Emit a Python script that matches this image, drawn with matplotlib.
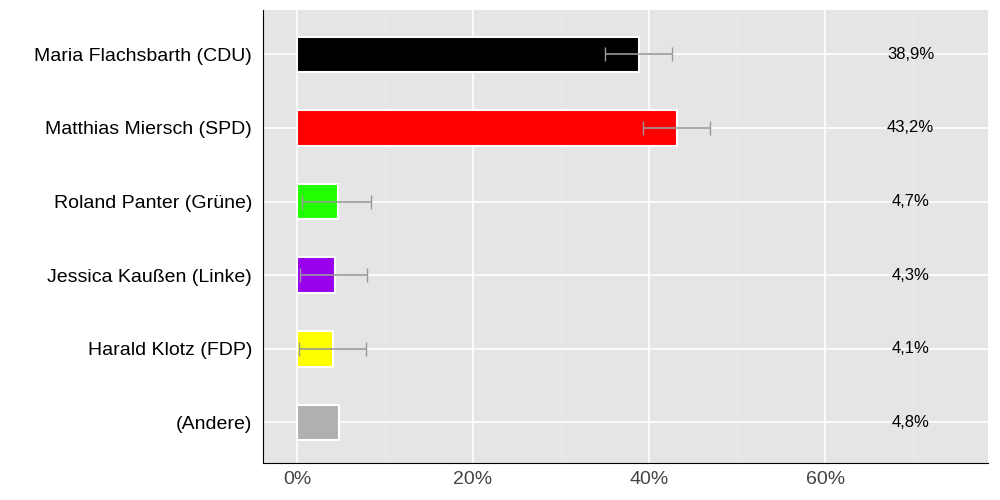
import matplotlib.pyplot as plt
import matplotlib.ticker as mticker

plt.rcParams["font.family"] = ["Liberation Sans", "DejaVu Sans"]

candidates = ["Maria Flachsbarth (CDU)", "Matthias Miersch (SPD)", "Roland Panter (Grüne)",
              "Jessica Kaußen (Linke)", "Harald Klotz (FDP)", "(Andere)"]
values = [38.9, 43.2, 4.7, 4.3, 4.1, 4.8]
err_low = [35.0, 39.3, 0.6, 0.3, 0.2, None]
err_high = [42.6, 46.9, 8.4, 8.0, 7.8, None]
colors = ["#000000", "#ff0000", "#22ff00", "#9900ee", "#ffff00", "#b0b0b0"]

fig = plt.figure(figsize=(10, 5), dpi=100)
ax = fig.add_axes([0.263, 0.074, 0.725, 0.906])
ax.set_facecolor("#e5e5e5")

y = list(range(len(candidates)))
ax.barh(y, values, height=0.48, color=colors, edgecolor="white", linewidth=1.5, zorder=3)

for yi, lo, hi, v in zip(y, err_low, err_high, values):
    if lo is not None:
        ax.errorbar([v], [yi], xerr=[[v - lo], [hi - v]], fmt="none",
                    ecolor="#999999", elinewidth=1.2, capsize=5, zorder=4)
    ax.text(69.7, yi, f"{v:.1f}%".replace(".", ","), ha="center", va="center",
            fontsize=12, zorder=5)

ax.set_yticks(y)
ax.set_yticklabels(candidates, fontsize=14)
ax.invert_yaxis()
ax.set_ylim(len(candidates) - 0.45, -0.6)
ax.set_xlim(-3.86, 78.5)
ax.set_xticks([0, 20, 40, 60])
ax.xaxis.set_major_formatter(mticker.FuncFormatter(lambda v, p: f"{v:.0f}%"))
ax.set_xticks([10, 30, 50, 70], minor=True)
ax.tick_params(axis="x", labelsize=14, colors="#444444", length=0, which="both", pad=6)
ax.tick_params(axis="y", length=0, pad=8)
ax.grid(True, which="major", color="white", linewidth=1.2, zorder=0)
ax.grid(True, which="minor", axis="x", color="#ececec", linewidth=0.6, zorder=0)
for s in ["top", "right"]:
    ax.spines[s].set_visible(False)
ax.spines["left"].set_color("black")
ax.spines["bottom"].set_color("black")

fig.savefig("out.png", dpi=100)
